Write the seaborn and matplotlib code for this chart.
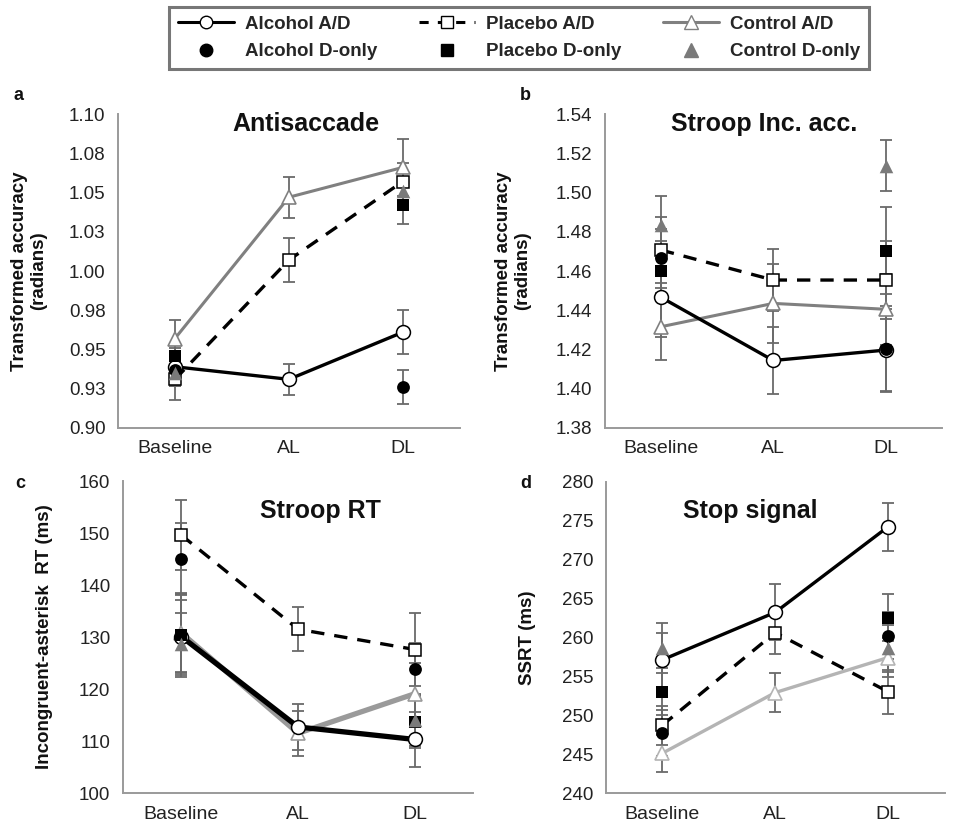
import numpy as np
import pandas as pd
import matplotlib
matplotlib.use("Agg")
import matplotlib.pyplot as plt
from matplotlib.lines import Line2D
import seaborn as sns

sns.set_theme(style="white")
plt.rcParams['font.family'] = ['Liberation Sans', 'DejaVu Sans']

# ---------------- data ----------------
categories = ["Baseline", "AL", "DL"]
donly_categories = ["Baseline", "DL"]

# (a) Antisaccade
anti_alc_ad = [0.939, 0.931, 0.961]
anti_alc_ad_err = [0.012, 0.010, 0.014]
anti_pla_ad = [0.931, 1.007, 1.057]
anti_pla_ad_err = [0.013, 0.014, 0.012]
anti_con_ad = [0.957, 1.047, 1.066]
anti_con_ad_err = [0.012, 0.013, 0.018]
anti_alc_d = [0.937, 0.926]
anti_alc_d_err = [0.010, 0.011]
anti_pla_d = [0.946, 1.042]
anti_pla_d_err = [0.008, 0.012]
anti_con_d = [0.935, 1.051]
anti_con_d_err = [0.008, 0.012]
anti_ticklabels = ["0.90", "0.93", "0.95", "0.98", "1.00", "1.03", "1.05", "1.08", "1.10"]

# (b) Stroop Inc. acc.
sacc_alc_ad = [1.4466, 1.4144, 1.4197]
sacc_alc_ad_err = [0.020, 0.017, 0.021]
sacc_pla_ad = [1.4707, 1.4554, 1.4554]
sacc_pla_ad_err = [0.017, 0.016, 0.020]
sacc_con_ad = [1.4316, 1.4435, 1.4405]
sacc_con_ad_err = [0.017, 0.020, 0.018]
sacc_alc_d = [1.4665, 1.4204]
sacc_alc_d_err = [0.015, 0.022]
sacc_pla_d = [1.4602, 1.4704]
sacc_pla_d_err = [0.015, 0.022]
sacc_con_d = [1.4835, 1.5136]
sacc_con_d_err = [0.0145, 0.013]
sacc_ticklabels = ["1.38", "1.40", "1.42", "1.44", "1.46", "1.48", "1.50", "1.52", "1.54"]

# (c) Stroop RT
srt_alc_ad = [130.1, 112.7, 110.3]
srt_alc_ad_err = [7.0, 4.5, 5.2]
srt_pla_ad = [149.6, 131.5, 127.6]
srt_pla_ad_err = [6.7, 4.2, 7.0]
srt_con_ad = [130.8, 111.5, 119.1]
srt_con_ad_err = [7.5, 4.3, 6.0]
srt_alc_d = [145.0, 123.8]
srt_alc_d_err = [7.0, 5.0]
srt_pla_d = [130.4, 113.6]
srt_pla_d_err = [8.0, 5.0]
srt_con_d = [128.7, 114.1]
srt_con_d_err = [6.0, 5.0]
srt_ticklabels = ["100", "110", "120", "130", "140", "150", "160"]

# (d) Stop signal
ss_alc_ad = [257.1, 263.2, 274.2]
ss_alc_ad_err = [3.5, 3.6, 3.1]
ss_pla_ad = [248.7, 260.6, 253.0]
ss_pla_ad_err = [2.5, 2.8, 2.8]
ss_con_ad = [245.1, 252.9, 257.4]
ss_con_ad_err = [2.4, 2.5, 2.5]
ss_alc_d = [247.7, 260.2]
ss_alc_d_err = [3.0, 3.0]
ss_pla_d = [253.0, 262.5]
ss_pla_d_err = [3.0, 3.0]
ss_con_d = [258.6, 258.6]
ss_con_d_err = [3.2, 3.0]
ss_ticklabels = ["240", "245", "250", "255", "260", "265", "270", "275", "280"]

panels = [
    dict(letter="a", title="Antisaccade", ylabel="Transformed accuracy\n(radians)",
         ad=[anti_alc_ad, anti_pla_ad, anti_con_ad], ad_err=[anti_alc_ad_err, anti_pla_ad_err, anti_con_ad_err],
         d=[anti_alc_d, anti_pla_d, anti_con_d], d_err=[anti_alc_d_err, anti_pla_d_err, anti_con_d_err],
         ylim=(0.90, 1.10), ticklabels=anti_ticklabels,
         rect=[0.1229, 0.4806, 0.356, 0.381], title_pos=(0.55, 0.968),
         con_color="#808080", con_lw=2.2, alc_lw=2.4, letter_pos=(13, 96), ylabel_x=29,
         ylabel_size=13.5),
    dict(letter="b", title="Stroop Inc. acc.", ylabel="Transformed accuracy\n(radians)",
         ad=[sacc_alc_ad, sacc_pla_ad, sacc_con_ad], ad_err=[sacc_alc_ad_err, sacc_pla_ad_err, sacc_con_ad_err],
         d=[sacc_alc_d, sacc_pla_d, sacc_con_d], d_err=[sacc_alc_d_err, sacc_pla_d_err, sacc_con_d_err],
         ylim=(1.38, 1.54), ticklabels=sacc_ticklabels,
         rect=[0.630, 0.4806, 0.351, 0.381], title_pos=(0.472, 0.968),
         con_color="#808080", con_lw=2.2, alc_lw=2.4, letter_pos=(520, 96), ylabel_x=513,
         ylabel_size=13.5),
    dict(letter="c", title="Stroop RT", ylabel="Incongruent-asterisk  RT (ms)",
         ad=[srt_alc_ad, srt_pla_ad, srt_con_ad], ad_err=[srt_alc_ad_err, srt_pla_ad_err, srt_con_ad_err],
         d=[srt_alc_d, srt_pla_d, srt_con_d], d_err=[srt_alc_d_err, srt_pla_d_err, srt_con_d_err],
         ylim=(100, 160), ticklabels=srt_ticklabels,
         rect=[0.128, 0.0376, 0.365, 0.3786], title_pos=(0.563, 0.904),
         con_color="#9a9a9a", con_lw=3.8, alc_lw=3.8, letter_pos=(15, 484), ylabel_x=45,
         ylabel_size=13.5),
    dict(letter="d", title="Stop signal", ylabel="SSRT (ms)",
         ad=[ss_alc_ad, ss_pla_ad, ss_con_ad], ad_err=[ss_alc_ad_err, ss_pla_ad_err, ss_con_ad_err],
         d=[ss_alc_d, ss_pla_d, ss_con_d], d_err=[ss_alc_d_err, ss_pla_d_err, ss_con_d_err],
         ylim=(240, 280), ticklabels=ss_ticklabels,
         rect=[0.631, 0.0376, 0.353, 0.378], title_pos=(0.425, 0.907),
         con_color="#b4b4b4", con_lw=2.4, alc_lw=2.4, letter_pos=(520, 484), ylabel_x=528,
         ylabel_size=13.5),
]

W, H = 960, 824
fig = plt.figure(figsize=(W / 100, H / 100), dpi=100)

spine_col = "#9a9a9a"
err_col = "#6a6a6a"
x_pos = {c: i for i, c in enumerate(categories)}
xa = [x_pos[c] for c in categories]
xd = [x_pos[c] for c in donly_categories]

for p in panels:
    ax = fig.add_axes(p["rect"])
    ax.set_facecolor("white")
    ad, ad_err, d, d_err = p["ad"], p["ad_err"], p["d"], p["d_err"]

    # error bars
    for vals, errs in zip(ad, ad_err):
        ax.errorbar(xa, vals, yerr=errs, fmt="none", ecolor=err_col, elinewidth=1.3,
                    capsize=4, capthick=1.3, zorder=2)
    for vals, errs in zip(d, d_err):
        ax.errorbar(xd, vals, yerr=errs, fmt="none", ecolor=err_col, elinewidth=1.3,
                    capsize=4, capthick=1.3, zorder=2)

    # A/D lines
    sns.lineplot(x=xa, y=ad[2], ax=ax, color=p["con_color"], lw=p["con_lw"], marker="^",
                 markersize=10, markerfacecolor="white", markeredgecolor=p["con_color"],
                 markeredgewidth=1.2, zorder=3)
    sns.lineplot(x=xa, y=ad[1], ax=ax, color="black", lw=2.4, linestyle=(0, (4, 3)), marker="s",
                 markersize=9, markerfacecolor="white", markeredgecolor="black",
                 markeredgewidth=1.1, zorder=4)
    sns.lineplot(x=xa, y=ad[0], ax=ax, color="black", lw=p["alc_lw"], marker="o",
                 markersize=10, markerfacecolor="white", markeredgecolor="black",
                 markeredgewidth=1.1, zorder=5)

    # D-only points
    sns.scatterplot(x=xd, y=d[0], ax=ax, color="black", marker="o", s=85, linewidth=0, zorder=6)
    sns.scatterplot(x=xd, y=d[1], ax=ax, color="black", marker="s", s=75, linewidth=0, zorder=6)
    sns.scatterplot(x=xd, y=d[2], ax=ax, color="#7a7a7a", marker="^", s=95, linewidth=0, zorder=6)

    # axes styling
    ax.set_xlim(-0.5, 2.5)
    ax.set_ylim(*p["ylim"])
    n = len(p["ticklabels"])
    ax.set_yticks(np.linspace(p["ylim"][0], p["ylim"][1], n))
    ax.set_yticklabels(p["ticklabels"])
    ax.set_xticks(xa)
    ax.set_xticklabels(categories)
    ax.set_xticks([-0.5, 0.5, 1.5, 2.5], minor=True)
    ax.tick_params(axis="x", which="major", length=0, labelsize=14, pad=9, colors="#222222")
    ax.tick_params(axis="x", which="minor", length=5, width=1.2, color=spine_col, direction="out")
    ax.tick_params(axis="y", which="major", length=5, width=1.2, color=spine_col, direction="out",
                   labelsize=13.5, pad=4, labelcolor="#222222")
    for s in ["top", "right"]:
        ax.spines[s].set_visible(False)
    for s in ["left", "bottom"]:
        ax.spines[s].set_color(spine_col)
        ax.spines[s].set_linewidth(1.4)
    ax.set_xlabel("")
    ax.set_ylabel("")

    ax.text(p["title_pos"][0], p["title_pos"][1], p["title"], transform=ax.transAxes,
            ha="center", va="center", fontsize=18, fontweight="bold", color="#111111")

    cy = (p["rect"][1] + p["rect"][3] / 2)
    fig.text(p["ylabel_x"] / W, cy, p["ylabel"], rotation=90, ha="center", va="center",
             fontsize=p["ylabel_size"], fontweight="bold", color="#111111",
             multialignment="center", linespacing=1.1)
    fig.text(p["letter_pos"][0] / W, 1 - p["letter_pos"][1] / H, p["letter"], ha="left",
             va="center", fontsize=13, fontweight="bold", color="#111111")

# legend
handles = [
    Line2D([], [], color="black", lw=2.2, marker="o", markersize=9, markerfacecolor="white",
           markeredgecolor="black"),
    Line2D([], [], color="black", lw=0, marker="o", markersize=9),
    Line2D([], [], color="black", lw=2.2, linestyle=(0, (3, 3)), marker="s", markersize=8.5,
           markerfacecolor="white", markeredgecolor="black"),
    Line2D([], [], color="black", lw=0, marker="s", markersize=8.5),
    Line2D([], [], color="#808080", lw=2.2, marker="^", markersize=10, markerfacecolor="white",
           markeredgecolor="#808080"),
    Line2D([], [], color="#7a7a7a", lw=0, marker="^", markersize=10),
]
labels = ["Alcohol A/D", "Alcohol D-only", "Placebo A/D", "Placebo D-only", "Control A/D",
          "Control D-only"]
leg = fig.legend(handles, labels, loc="center", bbox_to_anchor=(519 / W, 1 - 38 / H), ncol=3,
                 frameon=True, fancybox=False, edgecolor="#555555",
                 prop=dict(weight="bold", size=13.5), handlelength=3.0, columnspacing=2.2,
                 borderpad=0.45, labelspacing=0.55, handletextpad=0.6)
leg.get_frame().set_linewidth(2.2)

fig.savefig("out.png", dpi=100, facecolor="white")
